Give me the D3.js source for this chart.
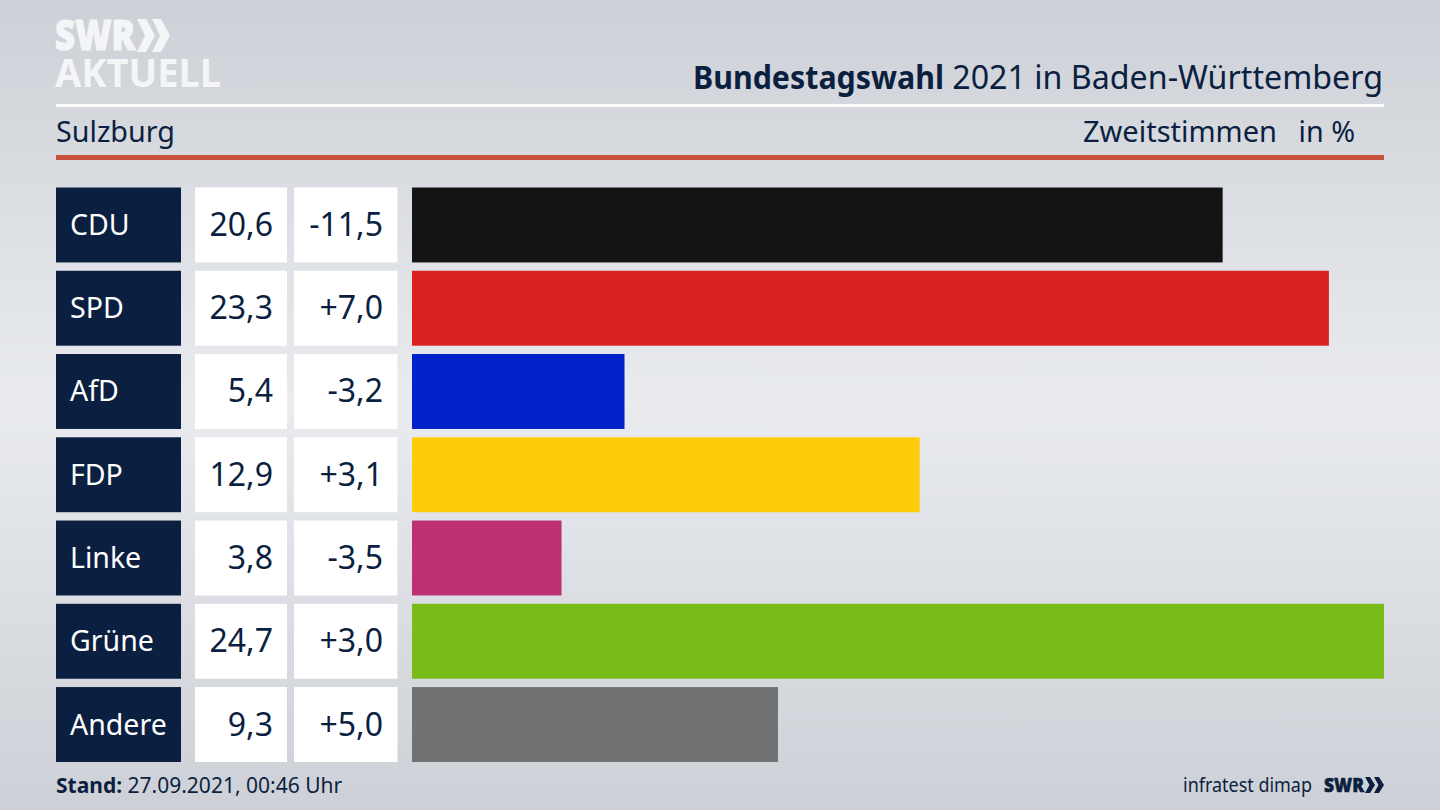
<!DOCTYPE html>
<html>
<head>
<meta charset="utf-8">
<script src="https://cdn.jsdelivr.net/npm/d3@7"></script>
<style>
  html, body { margin: 0; padding: 0; background: #d5d8dd; }
  svg { display: block; }
  text { font-family: "Noto Sans", sans-serif; fill: #0b1f40; }
</style>
</head>
<body>
<svg width="1440" height="810"></svg>
<script>
const parties = ["CDU", "SPD", "AfD", "FDP", "Linke", "Grüne", "Andere"];
const shares = [20.6, 23.3, 5.4, 12.9, 3.8, 24.7, 9.3];
const changes = ["-11,5", "+7,0", "-3,2", "+3,1", "-3,5", "+3,0", "+5,0"];
const colors = ["#141414", "#da211f", "#0022c8", "#ffcc0a", "#bc3074", "#79bc1a", "#707173"];

const navy = "#0b1f40";
const logoWhite = "#f4f5f7";
const svg = d3.select("svg");

// background, lighter band through the middle
const grad = svg.append("defs").append("linearGradient")
    .attr("id", "bg").attr("x1", 0).attr("y1", 0).attr("x2", 0).attr("y2", 1);
grad.append("stop").attr("offset", "0%").attr("stop-color", "#cdd0d6");
grad.append("stop").attr("offset", "50%").attr("stop-color", "#e9ebef");
grad.append("stop").attr("offset", "100%").attr("stop-color", "#cdd0d6");
svg.append("rect").attr("width", 1440).attr("height", 810).attr("fill", "url(#bg)");

// scales
const x = d3.scaleLinear().domain([0, d3.max(shares)]).range([412, 1384]);
const y = d3.scaleBand().domain(parties).range([187.5, 762]).paddingInner(0.1).paddingOuter(0);

// logo
const logo = svg.append("g").attr("id", "logo");
logo.append("text").attr("x", 55).attr("y", 50)
    .attr("font-size", 42).attr("font-weight", 900).attr("textLength", 80)
    .attr("lengthAdjust", "spacingAndGlyphs")
    .style("fill", logoWhite).style("stroke", logoWhite).style("stroke-width", 1.2).text("SWR");
logo.append("text").attr("x", 55).attr("y", 87)
    .attr("font-size", 40).attr("font-weight", 700).attr("textLength", 166)
    .attr("lengthAdjust", "spacingAndGlyphs").style("fill", logoWhite).text("AKTUELL");
[0, 15].forEach(dx => logo.append("path")
    .attr("d", `M${137 + dx} 19L${146 + dx} 19L${155 + dx} 35.5L${146 + dx} 52L${137 + dx} 52L${145 + dx} 35.5Z`)
    .attr("fill", logoWhite));

// header
svg.append("text").attr("x", 693).attr("y", 89).attr("font-size", 32).attr("font-weight", 700)
    .attr("textLength", 251).attr("lengthAdjust", "spacingAndGlyphs").text("Bundestagswahl");
svg.append("text").attr("x", 1383).attr("y", 89).attr("text-anchor", "end").attr("font-size", 32.2)
    .text("2021 in Baden-Württemberg");

svg.append("rect").attr("x", 56).attr("y", 104).attr("width", 1328).attr("height", 3).attr("fill", "#fff");
svg.append("rect").attr("x", 56).attr("y", 155).attr("width", 1328).attr("height", 5).attr("fill", "#c9523f");

svg.append("text").attr("x", 56).attr("y", 142).attr("font-size", 28.7).text("Sulzburg");
svg.append("text").attr("x", 1277).attr("y", 142).attr("text-anchor", "end").attr("font-size", 29).text("Zweitstimmen");
svg.append("text").attr("x", 1355).attr("y", 142).attr("text-anchor", "end").attr("font-size", 28.7).text("in %");

// rows
const rows = svg.append("g").selectAll("g").data(parties).enter().append("g");

rows.append("rect").attr("x", 56).attr("y", d => y(d)).attr("width", 125).attr("height", y.bandwidth()).attr("fill", navy);
rows.append("rect").attr("x", 195).attr("y", d => y(d)).attr("width", 92).attr("height", y.bandwidth()).attr("fill", "#fff");
rows.append("rect").attr("x", 294).attr("y", d => y(d)).attr("width", 103.5).attr("height", y.bandwidth()).attr("fill", "#fff");
rows.append("rect").attr("x", x(0)).attr("y", d => y(d))
    .attr("width", (d, i) => x(shares[i]) - x(0)).attr("height", y.bandwidth())
    .attr("fill", (d, i) => colors[i]);

const mid = d => y(d) + y.bandwidth() / 2;
rows.append("text").attr("x", 70).attr("y", d => mid(d) + 10).attr("font-size", 28.5).style("fill", "#fff").text(d => d);
rows.append("text").attr("x", 273).attr("y", d => mid(d) + 11).attr("text-anchor", "end").attr("font-size", 32)
    .text((d, i) => d3.format(".1f")(shares[i]).replace(".", ","));
rows.append("text").attr("x", 383).attr("y", d => mid(d) + 11).attr("text-anchor", "end").attr("font-size", 32)
    .text((d, i) => changes[i]);

// footer
const stand = svg.append("text").attr("x", 56).attr("y", 793).attr("font-size", 21);
stand.append("tspan").attr("font-weight", 700).text("Stand:");
stand.append("tspan").text(" 27.09.2021, 00:46 Uhr");

svg.append("text").attr("x", 1183).attr("y", 792).attr("font-size", 20)
    .attr("textLength", 129).attr("lengthAdjust", "spacingAndGlyphs").text("infratest dimap");
svg.append("text").attr("x", 1324).attr("y", 792).attr("font-size", 20).attr("font-weight", 900)
    .attr("textLength", 40).attr("lengthAdjust", "spacingAndGlyphs")
    .style("stroke", navy).style("stroke-width", 0.6).text("SWR");
[0, 9].forEach(dx => svg.append("path")
    .attr("d", `M${1365 + dx} 777L${1370 + dx} 777L${1375 + dx} 785L${1370 + dx} 793L${1365 + dx} 793L${1369.5 + dx} 785Z`)
    .attr("fill", navy));
</script>
</body>
</html>
